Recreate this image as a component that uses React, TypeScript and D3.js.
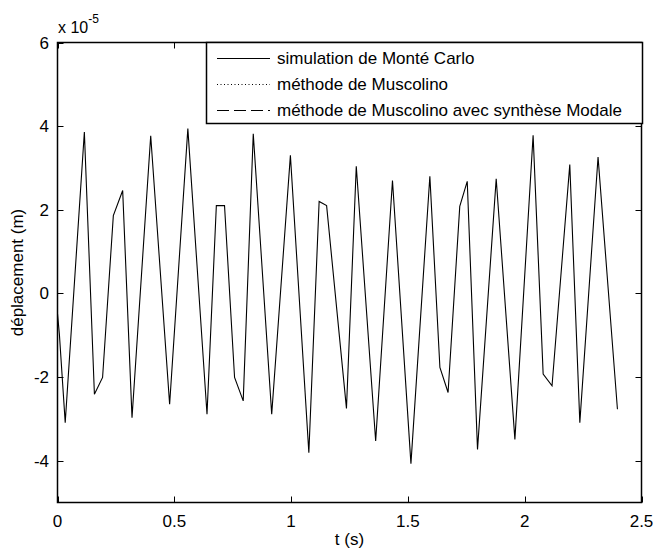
import * as d3 from 'd3';

// displacement (x 1e-5 m) vs time (s)
const timeS = [0, 0.008, 0.033, 0.115, 0.158, 0.193, 0.239, 0.279, 0.319, 0.399, 0.48, 0.558, 0.64, 0.68, 0.715, 0.758, 0.795, 0.838, 0.917, 0.997, 1.076, 1.12, 1.152, 1.237, 1.279, 1.362, 1.434, 1.513, 1.594, 1.637, 1.672, 1.722, 1.754, 1.798, 1.878, 1.958, 2.036, 2.079, 2.117, 2.193, 2.236, 2.314, 2.397];
const deplMonteCarlo = [-0.49, -0.97, -3.09, 3.86, -2.41, -2.01, 1.86, 2.46, -2.97, 3.77, -2.65, 3.94, -2.89, 2.1, 2.1, -2.01, -2.57, 3.82, -2.89, 3.3, -3.81, 2.2, 2.1, -2.75, 3.04, -3.53, 2.7, -4.07, 2.8, -1.77, -2.37, 2.08, 2.68, -3.73, 2.74, -3.49, 3.78, -1.93, -2.21, 3.08, -3.09, 3.26, -2.77];

const xTicks = [0, 0.5, 1, 1.5, 2, 2.5];
const yTicks = [-4, -2, 0, 2, 4, 6];

const legendLabels = ['simulation de Monté Carlo', 'méthode de Muscolino', 'méthode de Muscolino avec synthèse Modale'];
const legendDash = ['none', '1,2.5', '12,5'];

const font = 'Liberation Sans, Arial, sans-serif';

export default function App() {
  const W = 653;
  const H = 550;
  const left = 57.5;
  const right = 641.5;
  const top = 42.5;
  const bottom = 502.5;

  const x = d3.scaleLinear().domain([0, 2.5]).range([left, right]);
  const y = d3.scaleLinear().domain([-5, 6]).range([bottom, top]);

  const line = d3
    .line<number>()
    .x((_, i) => x(timeS[i]))
    .y((d) => y(d));

  const tickLen = 6;
  const leg = { x0: 206.5, y0: 42.5, x1: 642.5, y1: 123.5 };
  const rowY = [58, 84, 110];

  return (
    <svg width={W} height={H} style={{ position: 'absolute', left: 0, top: 0, background: '#fff' }} fontFamily={font}>
      <rect x={0} y={0} width={W} height={H} fill="#fff" />

      {/* data */}
      <path d={line(deplMonteCarlo) || ''} fill="none" stroke="#000" strokeWidth={1.1} />

      {/* ticks, inward on all sides */}
      {xTicks.map((t) => (
        <g key={'xt' + t}>
          <line x1={Math.round(x(t)) + 0.5} x2={Math.round(x(t)) + 0.5} y1={bottom} y2={bottom - tickLen} stroke="#000" />
          <line x1={Math.round(x(t)) + 0.5} x2={Math.round(x(t)) + 0.5} y1={top} y2={top + tickLen} stroke="#000" />
          <text x={x(t)} y={527} textAnchor="middle" fontSize={17} fill="#000">
            {t}
          </text>
        </g>
      ))}
      {yTicks.map((t) => (
        <g key={'yt' + t}>
          <line x1={left} x2={left + tickLen} y1={Math.round(y(t)) + 0.5} y2={Math.round(y(t)) + 0.5} stroke="#000" />
          <line x1={right} x2={right - tickLen} y1={Math.round(y(t)) + 0.5} y2={Math.round(y(t)) + 0.5} stroke="#000" />
          <text x={49} y={y(t) + 6} textAnchor="end" fontSize={17} fill="#000">
            {t}
          </text>
        </g>
      ))}

      {/* frame */}
      <rect x={left} y={top} width={right - left} height={bottom - top} fill="none" stroke="#000" strokeWidth={1.5} />

      {/* exponent */}
      <text x={58} y={33} fontSize={16} fill="#000">
        x 10
        <tspan fontSize={12} dy={-10}>-5</tspan>
      </text>

      {/* axis labels */}
      <text x={(left + right) / 2} y={545} textAnchor="middle" fontSize={17} fill="#000">
        t (s)
      </text>
      <text transform={`translate(23, ${(top + bottom) / 2}) rotate(-90)`} textAnchor="middle" fontSize={17} fill="#000">
        déplacement (m)
      </text>

      {/* legend */}
      <rect x={leg.x0} y={leg.y0} width={leg.x1 - leg.x0} height={leg.y1 - leg.y0} fill="#fff" stroke="#000" strokeWidth={1.5} />
      {legendLabels.map((lab, i) => (
        <g key={lab}>
          <line x1={217} x2={270} y1={rowY[i] + 0.5} y2={rowY[i] + 0.5} stroke="#000" strokeDasharray={legendDash[i]} />
          <text x={277} y={rowY[i] + 6} fontSize={17} fill="#000">
            {lab}
          </text>
        </g>
      ))}
    </svg>
  );
}
